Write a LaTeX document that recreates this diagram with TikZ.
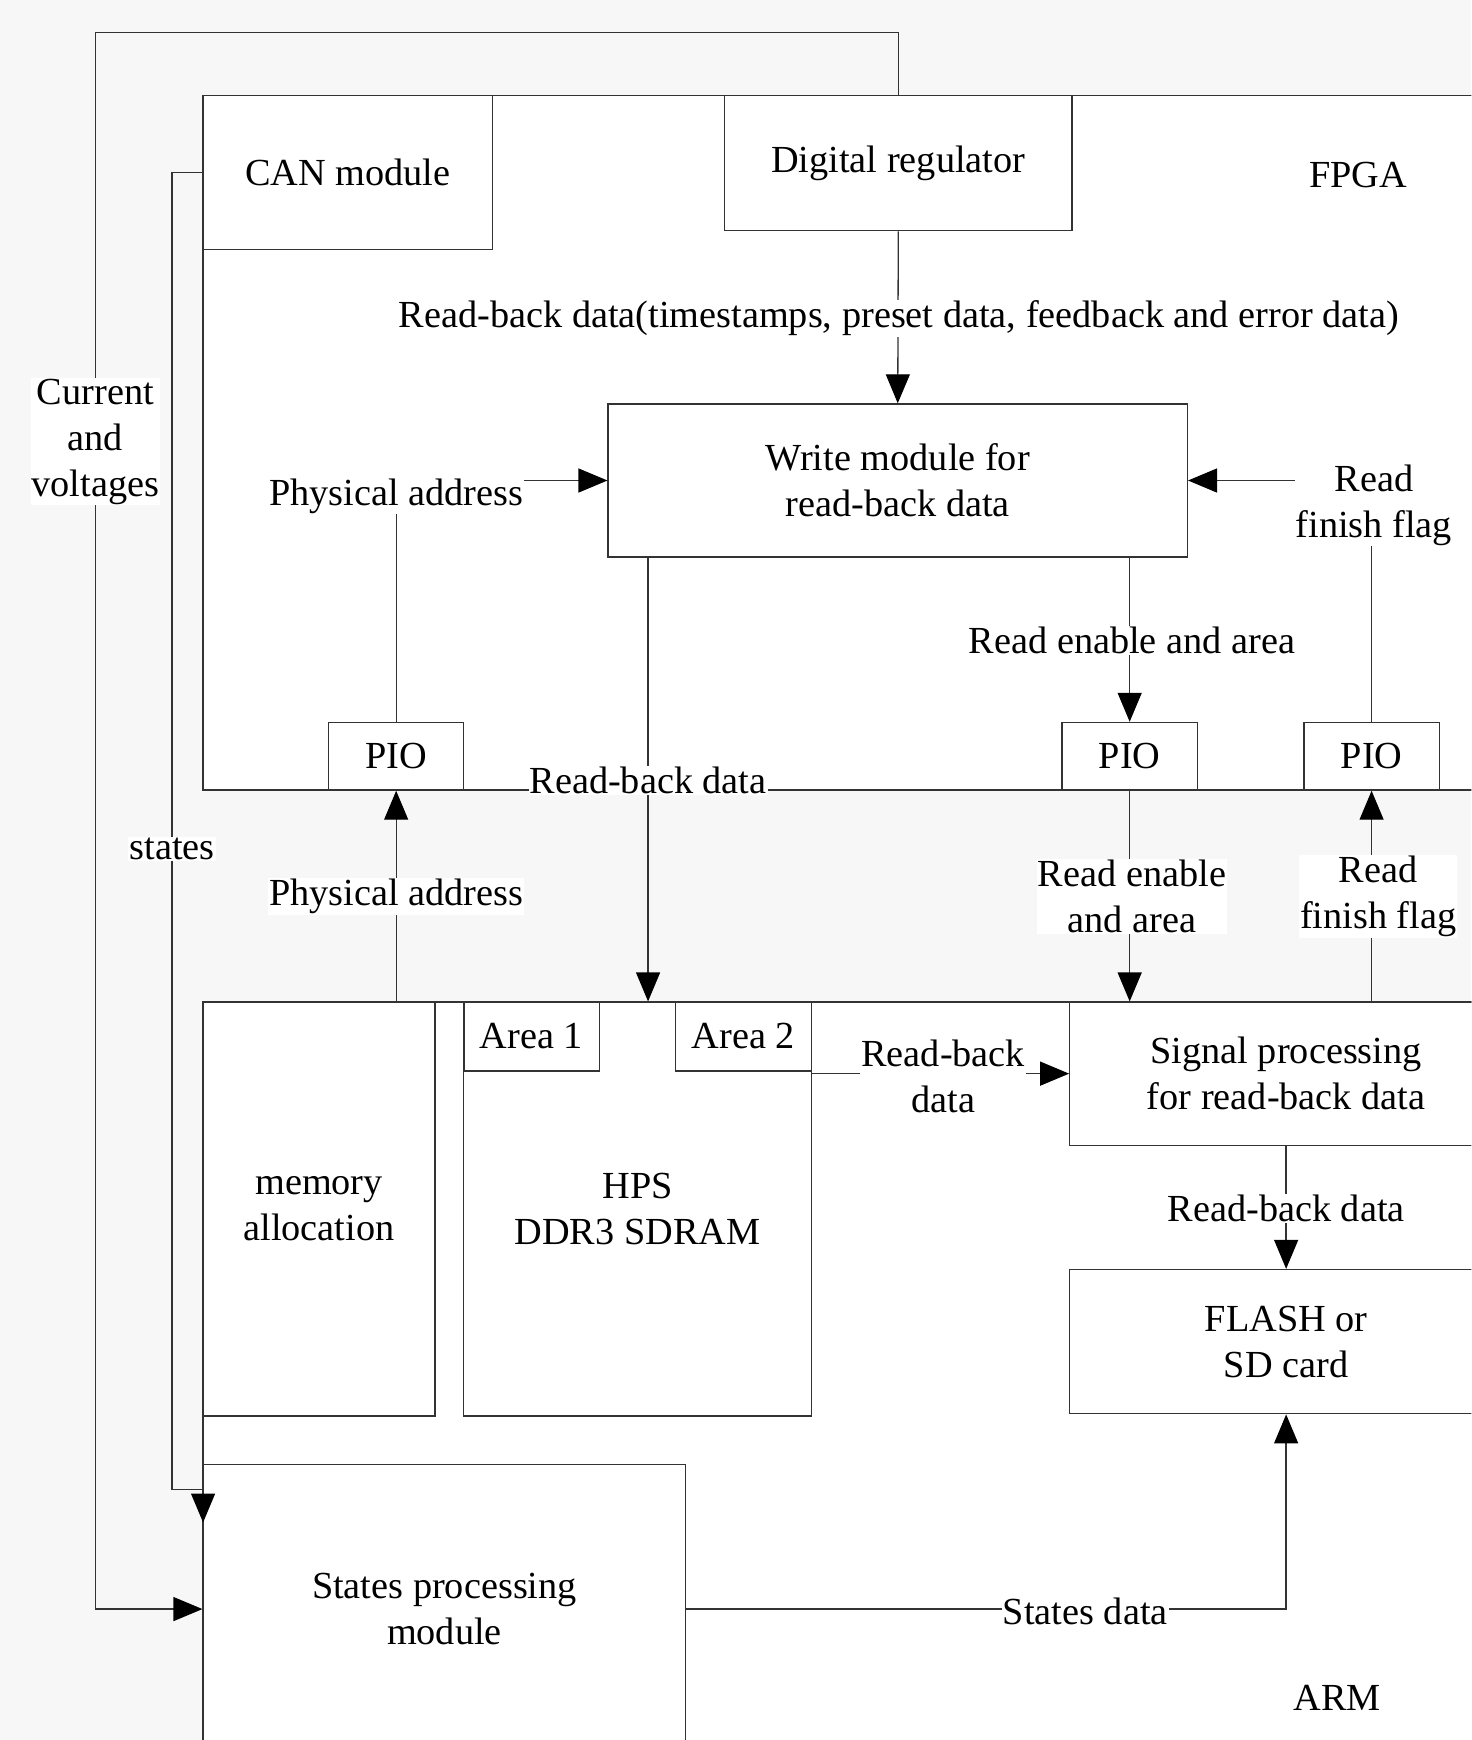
\documentclass[tikz,border=0pt]{standalone}
\usepackage{fontspec}
\setmainfont{Liberation Serif}
\usetikzlibrary{arrows.meta}
\begin{document}
\begin{tikzpicture}[x=1.1101pt,y=-1.1101pt,
  every node/.style={font=\rmfamily\fontsize{38.3}{46}\selectfont, text=black},
  box/.style={draw=black!80, line width=1.3pt, fill=white, inner sep=0pt, align=center},
  lbl/.style={fill=white, inner sep=1pt, align=center},
  conn/.style={draw=black!80, line width=1.3pt},
  arr/.style={conn, -{Triangle[length=29pt,width=24pt,color=black,fill=black]}},
  region/.style={draw=black!80, line width=1.3pt, fill=white}
]
\useasboundingbox (0,0) rectangle (1326,1568);
\clip (0,0) rectangle (1326,1568);
\fill[gray!6] (0,0) rectangle (1326,1568);

% regions
\draw[region] (183,86) rectangle (1360,712);
\draw[region] (183,903) rectangle (1360,1600);

% boxes
\node[box, minimum width=289.7pt, minimum height=154.3pt] (can) at (313.5,155.5) {CAN module};
\node[box, minimum width=347.5pt, minimum height=135.4pt] (dig) at (809.5,147) {Digital regulator};
\node[box, minimum width=579.5pt, minimum height=153.2pt] (write) at (809,433) {Write module for\\read-back data};
\node[box, minimum width=135.4pt, minimum height=67.7pt] (pio1) at (357,681.5) {PIO};
\node[box, minimum width=135.4pt, minimum height=67.7pt] (pio2) at (1018,681.5) {PIO};
\node[box, minimum width=135.4pt, minimum height=67.7pt] (pio3) at (1236,681.5) {PIO};
\node[box, minimum width=232.0pt, minimum height=414.1pt] (mem) at (287.5,1089.5) {memory\\allocation};
\node[box, minimum width=347.5pt, minimum height=414.1pt] (ddr) at (574.5,1089.5) {HPS\\DDR3 SDRAM};
\node[box, minimum width=135.4pt, minimum height=68.8pt] (area1) at (479,934) {Area 1};
\node[box, minimum width=135.4pt, minimum height=68.8pt] (area2) at (670,934) {Area 2};
\node[box, minimum width=432.9pt, minimum height=143.2pt] (sig) at (1159,967.5) {Signal processing\\for read-back data};
\node[box, minimum width=432.9pt, minimum height=144.3pt] (flash) at (1159,1209) {FLASH or\\SD card};
\node[box, minimum width=482.9pt, minimum height=288.6pt] (states) at (400.5,1450) {States processing\\module};

% helper coordinates
\coordinate (tl) at (86,29);
\coordinate (bl) at (86,1450);
\coordinate (sl) at (155,1342);
\coordinate (stin) at (183,1372);
\coordinate (rbx) at (584,0);
\coordinate (sdc) at (flash.south |- states.east);

% connectors
\draw[arr] (dig.north) |- (tl) -- (bl) -- (states.west);
\draw[arr] (can.west) -| (sl) -- (sl -| stin) -- (stin);
\draw[arr] (dig.south) -- (write.north);
\draw[arr] (pio1.north) |- (write.west);
\draw[arr] (pio3.north) |- (write.east);
\draw[arr] (write.south -| rbx) -- (ddr.north -| rbx);
\draw[arr] (write.south -| pio2) -- (pio2.north);
\draw[arr] (pio2.south) -- (pio2.south |- sig.north);
\draw[arr] (sig.north -| pio3) -- (pio3.south);
\draw[arr] (mem.north -| pio1) -- (pio1.south);
\draw[arr] (ddr.east |- sig.west) -- (sig.west);
\draw[arr] (sig.south) -- (flash.north);
\draw[arr] (states.east) -- (sdc) -- (flash.south);

% labels
\node[lbl] (lcv) at (86,398) {Current\\and\\voltages};
\node[lbl] (lst) at (155,765) {states};
\node[lbl] (lrb1) at (810,287) {Read-back data(timestamps, preset data, feedback and error data)};
\node[lbl] (lpa1) at (357,447) {Physical address};
\node[lbl] (lrf1) at (1238,455) {Read\\finish flag};
\node[lbl] (lrb2) at (584,703) {Read-back data};
\node[lbl] (lre1) at (1020,577) {Read enable and area};
\node[lbl] (lre2) at (1020,808) {Read enable\\and area};
\node[lbl] (lrf2) at (1242,808) {Read\\finish flag};
\node[lbl] (lpa2) at (357,808) {Physical address};
\node[lbl] (lrb3) at (850,970) {Read-back\\data};
\node[lbl] (lrb4) at (1159,1089) {Read-back data};
\node[lbl] (lsd) at (978,1452) {States data};
\node (fpga) at (1224,158) {FPGA};
\node (arm) at (1205,1530) {ARM};
\end{tikzpicture}
\end{document}
